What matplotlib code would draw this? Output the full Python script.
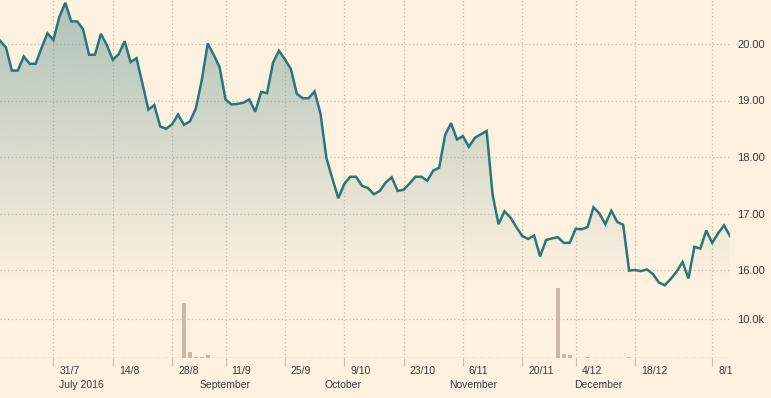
import numpy as np
import pandas as pd
import matplotlib
matplotlib.use("Agg")
import matplotlib.pyplot as plt
from matplotlib.patches import Polygon
from matplotlib.transforms import offset_copy

# ---------------- data ----------------
start_date = "2016-07-19"
end_date = "2017-01-12"
holidays = ["2016-09-05", "2016-11-24", "2016-12-26", "2017-01-02"]

prices = [
    20.06, 19.94, 19.53, 19.53, 19.78, 19.65, 19.65, 19.93, 20.19, 20.07,
    20.48, 20.73, 20.40, 20.40, 20.26, 19.81, 19.81, 20.18, 19.98, 19.72,
    19.82, 20.05, 19.68, 19.75, 19.30, 18.84, 18.92, 18.54, 18.50, 18.58,
    18.75, 18.57, 18.63, 18.86, 19.36, 20.01, 19.81, 19.59, 19.02, 18.93,
    18.94, 18.96, 19.02, 18.80, 19.15, 19.13, 19.67, 19.88, 19.73, 19.56,
    19.12, 19.04, 19.04, 19.16, 18.77, 17.98, 17.62, 17.27, 17.52, 17.65,
    17.65, 17.49, 17.45, 17.34, 17.40, 17.55, 17.64, 17.40, 17.42, 17.53,
    17.65, 17.65, 17.58, 17.76, 17.81, 18.39, 18.60, 18.31, 18.37, 18.18,
    18.34, 18.40, 18.46, 17.33, 16.81, 17.04, 16.93, 16.76, 16.60, 16.55,
    16.61, 16.24, 16.53, 16.56, 16.58, 16.48, 16.48, 16.73, 16.72, 16.76,
    17.11, 17.00, 16.81, 17.05, 16.85, 16.80, 15.99, 16.00, 15.98, 16.01,
    15.93, 15.78, 15.73, 15.84, 15.97, 16.14, 15.85, 16.41, 16.38, 16.70,
    16.48, 16.65, 16.79, 16.60,
]

volume_dates = ["2016-08-31", "2016-09-01", "2016-09-02", "2016-09-06", "2016-09-07",
                "2016-11-25", "2016-11-28", "2016-11-30", "2016-12-01", "2016-12-02",
                "2016-12-07", "2016-12-16"]
volume_values = [14000, 1500, 300, 300, 800,
                 100, 100, 17900, 1000, 800,
                 250, 200]

tick_dates = ["2016-07-31", "2016-08-14", "2016-08-28", "2016-09-11", "2016-09-25",
              "2016-10-09", "2016-10-23", "2016-11-06", "2016-11-20", "2016-12-04",
              "2016-12-18", "2017-01-08"]
tick_labels = ["31/7", "14/8", "28/8", "11/9", "25/9", "9/10", "23/10", "6/11",
               "20/11", "4/12", "18/12", "8/1"]
month_labels = ["July 2016", "September", "October", "November", "December"]
month_starts = ["2016-07-31", "2016-09-01", "2016-10-01", "2016-11-01", "2016-12-01"]

price_ticks = [16, 17, 18, 19, 20]
price_tick_labels = ["16.00", "17.00", "18.00", "19.00", "20.00"]
volume_ticks = [10000]
volume_tick_labels = ["10.0k"]

# ---------------- derived ----------------
dates = pd.bdate_range(start_date, end_date)
dates = dates[~dates.isin(pd.to_datetime(holidays))]
x = np.arange(len(dates))
prices = np.array(prices[:len(x)])

def date_index(d):
    return int(np.searchsorted(dates.values, np.datetime64(pd.Timestamp(d))))

vol = np.zeros(len(x))
for d, v in zip(volume_dates, volume_values):
    vol[date_index(d)] = v

tick_pos = [date_index(d) for d in tick_dates]
month_pos = [date_index(d) for d in month_starts]

# ---------------- style ----------------
BG = "#FFF1E0"
LINE = "#28777a"
GRID = "#cbbfb2"
TEXT = "#3a3a3a"
VOLC = "#cbb9a7"
plt.rcParams["font.family"] = ["Liberation Sans", "DejaVu Sans"]

W, H = 771, 398
fig = plt.figure(figsize=(W / 100, H / 100), dpi=100, facecolor=BG)
rect = [0, (H - 358) / H, 730 / W, 358 / H]
ax = fig.add_axes(rect, facecolor=BG)
axv = fig.add_axes(rect, facecolor="none", sharex=ax)

ppu = 56.5
ylim_price = (20 - (358 - 44) / ppu, 20 + 44 / ppu)
ax.set_xlim(0, len(x) - 1)
ax.set_ylim(*ylim_price)
axv.set_ylim(0, 358 / 39 * 10000)

for a in (ax, axv):
    for s in a.spines.values():
        s.set_visible(False)

# gradient fill under the price line
y_lo = 15.72
ytop = ylim_price[1]
n = 256
alpha = np.linspace(0.38, 0.0, n)[:, None]
rgb = np.array(matplotlib.colors.to_rgb(LINE))
grad = np.zeros((n, 1, 4))
grad[:, :, :3] = rgb
grad[:, :, 3] = alpha
im = ax.imshow(grad, extent=[0, len(x) - 1, y_lo, ytop], origin="upper",
               aspect="auto", zorder=1, interpolation="bilinear")
verts = [(x[0], y_lo)] + list(zip(x, prices)) + [(x[-1], y_lo)]
poly = Polygon(verts, closed=True, facecolor="none", edgecolor="none",
               transform=ax.transData)
ax.add_patch(poly)
im.set_clip_path(poly)
ax.set_xlim(0, len(x) - 1)
ax.set_ylim(*ylim_price)

ax.plot(x, prices, color=LINE, lw=1.8, zorder=3, solid_joinstyle="miter")

# grids
for p in price_ticks:
    ax.axhline(p, color=GRID, lw=0.9, ls=(0, (1, 2)), zorder=0.5)
for t in tick_pos:
    ax.axvline(t, color=GRID, lw=0.9, ls=(0, (1, 2)), zorder=0.5)
for v in volume_ticks:
    axv.axhline(v, color=GRID, lw=0.9, ls=(0, (1, 2)), zorder=0.5)
axv.axhline(0, color="#c4b8ab", lw=0.9, ls=(0, (4, 2.5)), zorder=1)

axv.bar(x, vol, width=0.6, color=VOLC, zorder=2, linewidth=0)

# y tick labels on right
ax.set_yticks(price_ticks)
ax.set_yticklabels(price_tick_labels)
axv.set_yticks(volume_ticks)
axv.set_yticklabels(volume_tick_labels)
for a in (ax, axv):
    a.yaxis.tick_right()
    a.tick_params(axis="y", length=0, pad=5, labelsize=8, labelcolor=TEXT)

# x ticks (marks + labels)
ax.set_xticks(tick_pos)
ax.set_xticklabels([])
ax.tick_params(axis="x", length=6, width=0.8, color=GRID, direction="out")
axv.tick_params(axis="x", length=0, labelbottom=False)
base_tr = ax.get_xaxis_transform()
for t, lab in zip(tick_pos, tick_labels):
    ax.text(t, 0, lab, transform=offset_copy(base_tr, fig=fig, x=6, y=-16, units="dots"),
            ha="left", va="baseline", fontsize=7.5, color=TEXT)
for i, (m, lab) in enumerate(zip(month_pos, month_labels)):
    pos = max(m, tick_pos[0])
    dx = 6 if i == 0 else 10
    ax.text(pos, 0, lab, transform=offset_copy(base_tr, fig=fig, x=dx, y=-30, units="dots"),
            ha="left", va="baseline", fontsize=7.5, color=TEXT)

fig.savefig("out.png", dpi=100, facecolor=BG)
